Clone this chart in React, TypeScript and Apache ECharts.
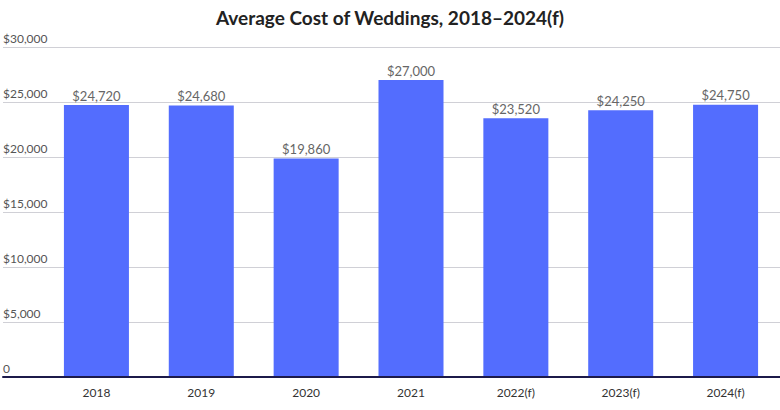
import React, { useEffect, useRef } from "react";
import * as echarts from "echarts";

const categories = ["2018", "2019", "2020", "2021", "2022(f)", "2023(f)", "2024(f)"];
const values = [24720, 24680, 19860, 27000, 23520, 24250, 24750];
const yTicks = [0, 5000, 10000, 15000, 20000, 25000, 30000];

const fmt = (v: number) => (v === 0 ? "0" : "$" + v.toLocaleString("en-US"));

export default function App() {
  const ref = useRef<HTMLDivElement>(null);
  useEffect(() => {
    document.body.style.margin = "0";
    if (!ref.current) return;
    const chart = echarts.init(ref.current, undefined, { renderer: "svg" });
    const top = 47;
    const bottom = 410 - 377;
    chart.setOption({
      animation: false,
      title: {
        text: "Average Cost of Weddings, 2018\u20132024(f)",
        left: "center",
        top: 3,
        textStyle: { fontFamily: "Lato", fontWeight: "bold", fontSize: 19, color: "#222" },
      },
      grid: [
        { left: 0, right: 0, top, bottom },
        { left: 44, right: 2, top, bottom },
      ],
      xAxis: [
        {
          gridIndex: 0,
          type: "category",
          data: [""],
          axisLine: { show: true, lineStyle: { color: "#1c1a4a", width: 2 } },
          axisTick: { show: false },
          axisLabel: { show: false },
          z: 10,
        },
        {
          gridIndex: 1,
          type: "category",
          data: categories,
          axisLine: { show: false },
          axisTick: { show: false },
          axisLabel: { color: "#333", fontFamily: "Lato", fontSize: 12, margin: 9 },
        },
      ],
      yAxis: [
        {
          gridIndex: 0,
          type: "value",
          min: yTicks[0],
          max: yTicks[yTicks.length - 1],
          interval: 5000,
          axisLine: { show: false },
          axisTick: { show: false },
          splitLine: { lineStyle: { color: "#d0d0d6", width: 1 } },
          axisLabel: {
            inside: true,
            margin: 0,
            align: "left",
            verticalAlign: "bottom",
            padding: [0, 0, 3, 0],
            color: "#555",
            fontFamily: "Lato",
            fontSize: 12,
            formatter: (v: number) => fmt(v),
          },
          z: 0,
        },
        {
          gridIndex: 1,
          type: "value",
          min: yTicks[0],
          max: yTicks[yTicks.length - 1],
          interval: 5000,
          show: false,
        },
      ],
      series: [
        {
          type: "bar",
          xAxisIndex: 1,
          yAxisIndex: 1,
          data: values,
          barCategoryGap: "38%",
          itemStyle: { color: "#536dfe" },
          label: {
            show: true,
            position: "top",
            distance: 3,
            color: "#666",
            fontFamily: "Lato",
            fontSize: 13,
            formatter: (p: any) => fmt(p.value),
          },
          z: 3,
        },
      ],
    });
    return () => chart.dispose();
  }, []);
  return <div ref={ref} style={{ width: 780, height: 410 }} />;
}
